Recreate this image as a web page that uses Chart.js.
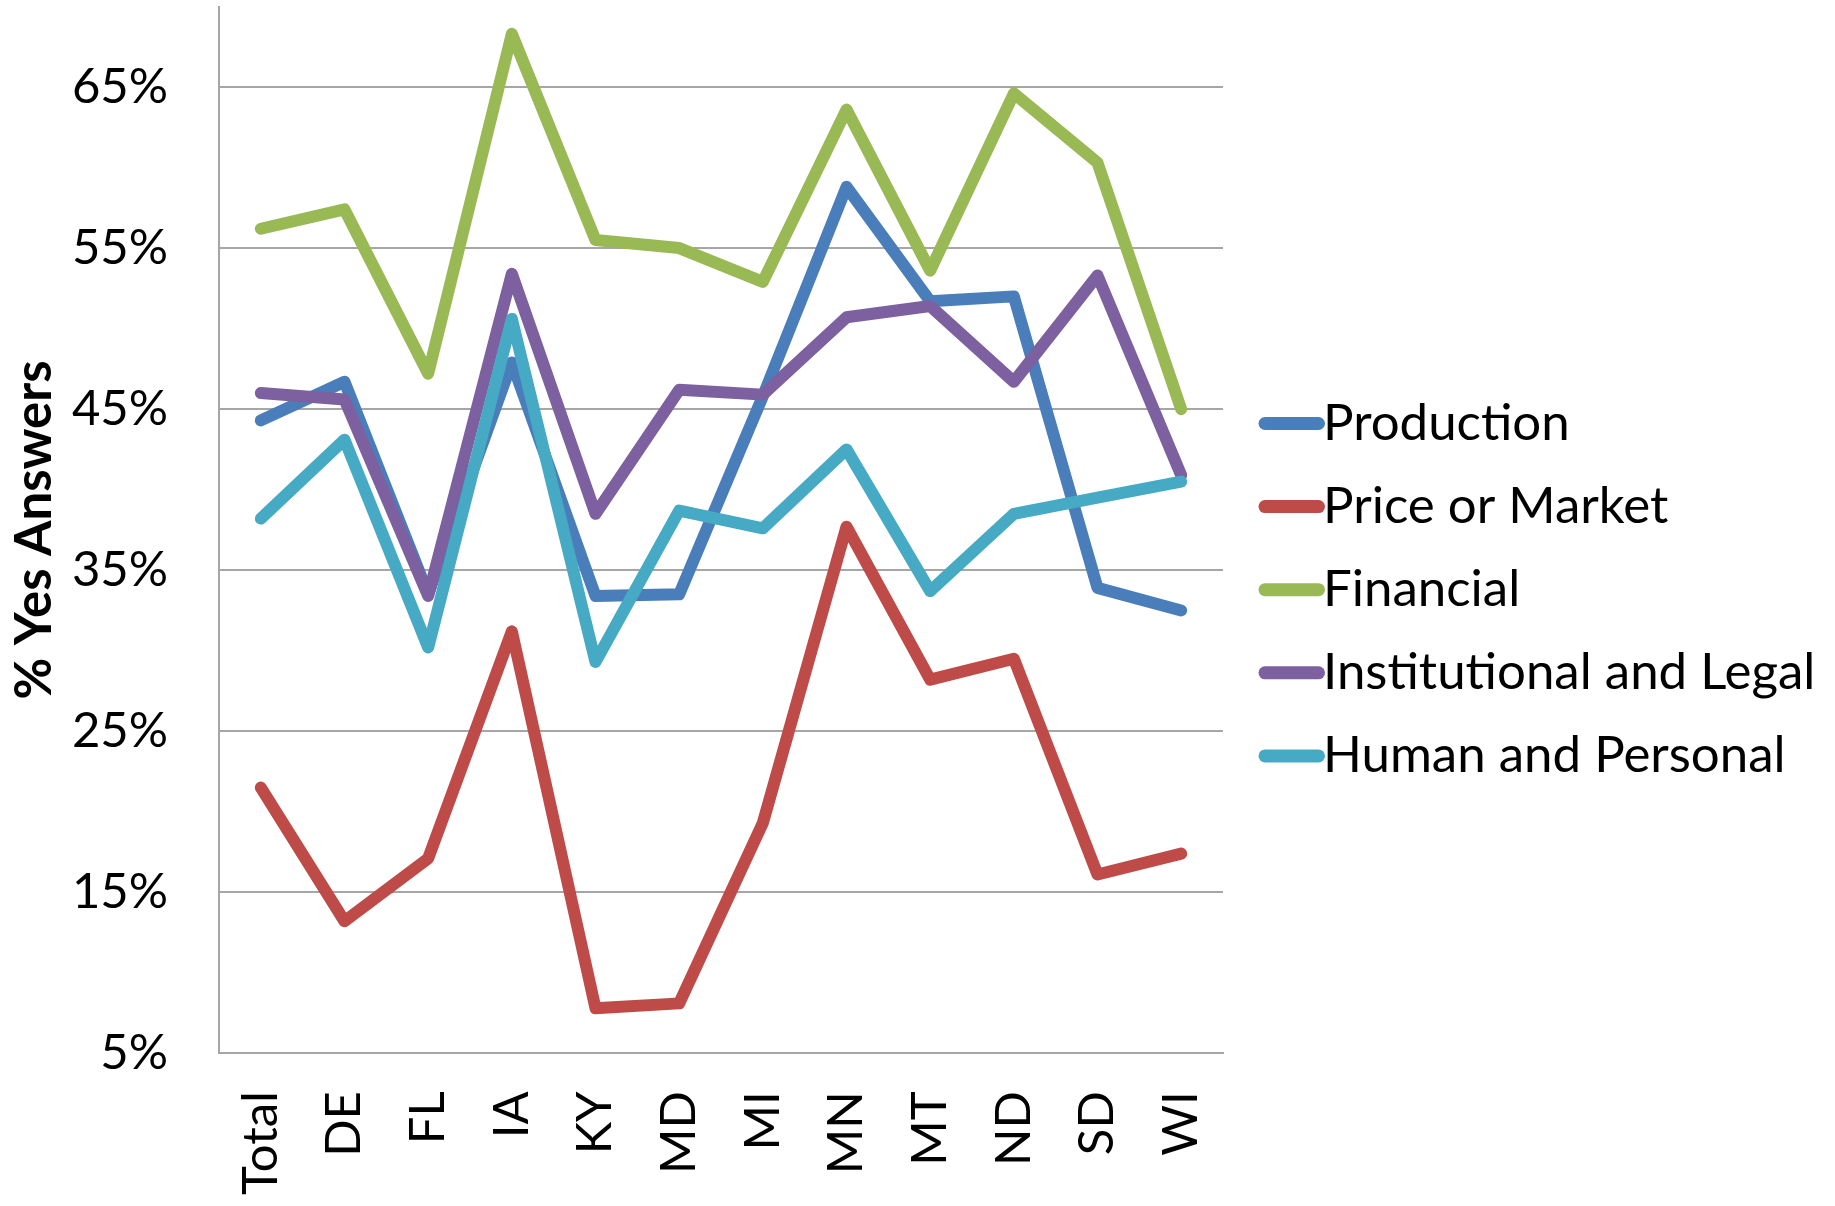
<!DOCTYPE html>
<html>
<head>
<meta charset="utf-8">
<script src="https://cdn.jsdelivr.net/npm/chart.js@4.4.1/dist/chart.umd.min.js"></script>
<style>
  html, body { margin: 0; padding: 0; background: #ffffff; }
  #wrap { width: 1835px; height: 1206px; }
</style>
</head>
<body>
<div id="wrap"><canvas id="c" width="1835" height="1206"></canvas></div>
<script>
// ---- data ----
const categories = ['Total', 'DE', 'FL', 'IA', 'KY', 'MD', 'MI', 'MN', 'MT', 'ND', 'SD', 'WI'];
const seriesNames = ['Production', 'Price or Market', 'Financial', 'Institutional and Legal', 'Human and Personal'];
const production    = [44.3, 46.7, 33.5, 47.9, 33.4, 33.5, 45.8, 58.8, 51.7, 52.0, 33.9, 32.5];
const priceOrMarket = [21.5, 13.2, 17.1, 31.2,  7.8,  8.1, 19.3, 37.7, 28.2, 29.5, 16.1, 17.4];
const financial     = [56.2, 57.4, 47.2, 68.3, 55.5, 55.0, 52.9, 63.6, 53.6, 64.6, 60.3, 45.0];
const institutional = [46.0, 45.6, 33.4, 53.4, 38.5, 46.2, 45.9, 50.7, 51.4, 46.7, 53.3, 40.9];
const human         = [38.2, 43.1, 30.2, 50.6, 29.3, 38.7, 37.6, 42.5, 33.7, 38.5, 39.5, 40.5];
const yTickValues = [5, 15, 25, 35, 45, 55, 65];
const yMin = 5, yMax = 70;
const yTitle = '% Yes Answers';

// ---- styles ----
const colors = ['#4a7ebb', '#be4b48', '#98b954', '#7d60a0', '#46aac5'];
const seriesData = [production, priceOrMarket, financial, institutional, human];
const FONT = 'Lato';
const FONT_SIZE = 49;
const LEGEND_FONT_SIZE = 51;
const TITLE_FONT_SIZE = 51;
const GRID = '#a6a6a6';

const datasets = seriesNames.map((name, i) => ({
  label: name,
  data: seriesData[i],
  borderColor: colors[i],
  backgroundColor: colors[i],
  borderWidth: 12,
  pointRadius: 0,
  pointHoverRadius: 0,
  tension: 0,
  fill: false,
  borderJoinStyle: 'round',
  borderCapStyle: 'round',
  order: seriesNames.length - i
}));

// Excel-style legend: thick rounded line swatch immediately followed by text
const excelLegend = {
  id: 'excelLegend',
  afterDraw(chart) {
    const { ctx, chartArea } = chart;
    const x0 = chartArea.right + 42;
    const firstY = chartArea.top + 417;
    const step = 83.1;
    ctx.save();
    seriesNames.forEach((name, i) => {
      const y = firstY + i * step;
      ctx.beginPath();
      ctx.strokeStyle = colors[i];
      ctx.lineWidth = 13;
      ctx.lineCap = 'round';
      ctx.moveTo(x0, y);
      ctx.lineTo(x0 + 53.5, y);
      ctx.stroke();
      ctx.fillStyle = '#000';
      ctx.font = LEGEND_FONT_SIZE + 'px ' + FONT;
      ctx.textBaseline = 'middle';
      ctx.textAlign = 'left';
      ctx.fillText(name, x0 + 58, y);
    });
    ctx.restore();
  }
};

new Chart(document.getElementById('c'), {
  type: 'line',
  data: { labels: categories, datasets },
  plugins: [excelLegend],
  options: {
    responsive: false,
    animation: false,
    devicePixelRatio: 1,
    layout: { padding: { top: 6.5, right: 612, left: 0, bottom: 0 } },
    plugins: { legend: { display: false }, tooltip: { enabled: false } },
    scales: {
      x: {
        type: 'category',
        offset: true,
        grid: { display: true, color: 'rgba(0,0,0,0)', drawTicks: false },
        border: { display: true, color: GRID, width: 2 },
        ticks: {
          color: '#000',
          font: { family: FONT, size: FONT_SIZE },
          maxRotation: 90,
          minRotation: 90,
          autoSkip: false,
          padding: 38
        },
        afterFit(s) { s.height = 152.7; s.paddingLeft = 0; s.paddingRight = 0; }
      },
      y: {
        min: yMin,
        max: yMax,
        grid: { color: GRID, lineWidth: 2, drawTicks: false },
        border: { display: true, color: GRID, width: 2 },
        ticks: {
          color: '#000',
          font: { family: FONT, size: FONT_SIZE },
          padding: 51,
          callback: v => v + '%'
        },
        title: {
          display: true,
          text: yTitle,
          color: '#000',
          font: { family: FONT, size: TITLE_FONT_SIZE, weight: 'bold' },
          padding: { top: 4, bottom: 0 }
        },
        afterBuildTicks(s) { s.ticks = yTickValues.map(v => ({ value: v })); },
        afterFit(s) { s.width = 219; s.paddingTop = 0; s.paddingBottom = 0; }
      }
    }
  }
});
</script>
</body>
</html>
